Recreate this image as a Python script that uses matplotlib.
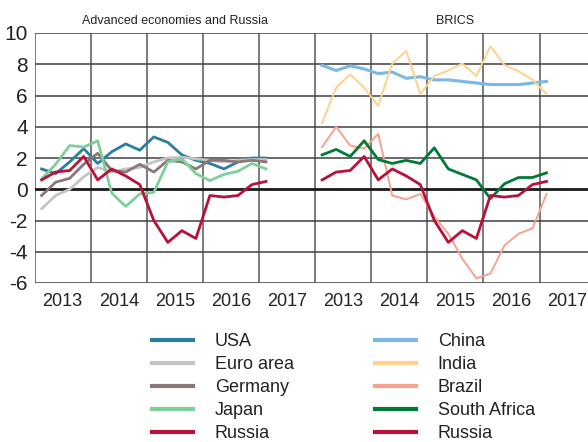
import numpy as np
import matplotlib
matplotlib.use("Agg")
import matplotlib.pyplot as plt

plt.rcParams['font.family'] = ['Liberation Sans', 'DejaVu Sans']

years = ['2013', '2014', '2015', '2016', '2017']

# quarterly values 2013Q1 .. 2017Q1
usa = [1.3, 1.0, 1.75, 2.6, 1.65, 2.4, 2.9, 2.5, 3.35, 3.0, 2.2, 1.85, 1.65, 1.3, 1.75, 2.0, 2.0]
euro = [-1.25, -0.4, 0.0, 0.8, 1.4, 1.1, 1.3, 1.4, 1.75, 2.0, 2.05, 1.95, 1.85, 1.75, 1.85, 1.9, 1.9]
germany = [-0.4, 0.45, 0.7, 1.6, 2.3, 1.2, 1.1, 1.6, 1.1, 1.85, 1.75, 1.3, 1.85, 1.85, 1.75, 1.85, 1.75]
japan = [0.65, 1.6, 2.8, 2.7, 3.1, -0.25, -1.1, -0.3, -0.2, 1.75, 1.95, 1.0, 0.55, 0.95, 1.15, 1.65, 1.3]
russia = [0.6, 1.1, 1.2, 2.1, 0.6, 1.3, 0.85, 0.3, -2.0, -3.4, -2.65, -3.15, -0.4, -0.5, -0.4, 0.3, 0.5]

china = [7.93, 7.6, 7.9, 7.7, 7.4, 7.5, 7.1, 7.2, 7.0, 7.0, 6.9, 6.8, 6.7, 6.7, 6.7, 6.8, 6.9]
india = [4.25, 6.5, 7.35, 6.5, 5.35, 8.05, 8.85, 6.1, 7.25, 7.6, 8.05, 7.25, 9.15, 7.95, 7.55, 7.0, 6.1]
brazil = [2.7, 4.0, 2.8, 2.6, 3.55, -0.4, -0.65, -0.3, -1.75, -2.85, -4.45, -5.7, -5.4, -3.6, -2.85, -2.5, -0.3]
safrica = [2.2, 2.55, 2.1, 3.1, 1.9, 1.65, 1.85, 1.65, 2.65, 1.3, 0.95, 0.6, -0.6, 0.35, 0.75, 0.75, 1.05]

q = (np.arange(17) + 0.5) / 4.0
xl = q
xr = q + 5

fig = plt.figure(figsize=(5.88, 4.42), dpi=100)
ax = fig.add_axes([34.6 / 588, 1 - 283 / 442, 1 - 34.6 / 588, 250 / 442])

ax.set_xlim(0, (588 - 34.6) / 56.1)
ax.set_ylim(-6, 10)

for x in range(0, 11):
    ax.axvline(x, color='#707070', lw=1.3, zorder=1)
for y in range(-6, 11, 2):
    if y == 0:
        continue
    ax.axhline(y, color='#404040', lw=1.1, zorder=1)
ax.axhline(0, color='#1a1a1a', lw=2.0, zorder=2)

left_lines = []
left_lines += ax.plot(xl, usa, color='#2a7f9e', lw=2.0, label='USA', zorder=3)
left_lines += ax.plot(xl, euro, color='#c4c4c4', lw=2.0, label='Euro area', zorder=3)
left_lines += ax.plot(xl, germany, color='#8a7777', lw=2.0, label='Germany', zorder=3)
left_lines += ax.plot(xl, japan, color='#7fcf9c', lw=2.0, label='Japan', zorder=3)
left_lines += ax.plot(xl, russia, color='#b8113a', lw=2.0, label='Russia', zorder=4)

right_lines = []
right_lines += ax.plot(xr, china, color='#7ab8e6', lw=2.2, label='China', zorder=3)
right_lines += ax.plot(xr, india, color='#fdd28c', lw=1.4, label='India', zorder=3)
right_lines += ax.plot(xr, brazil, color='#f7a28e', lw=1.4, label='Brazil', zorder=3)
right_lines += ax.plot(xr, safrica, color='#007a35', lw=2.0, label='South Africa', zorder=3)
right_lines += ax.plot(xr, russia, color='#b8113a', lw=2.0, label='Russia', zorder=4)

ax.set_yticks(range(-6, 11, 2))
ax.set_yticklabels([str(v) for v in range(-6, 11, 2)], fontsize=15, color='#222222')
ax.set_xticks(np.arange(10) + 0.5)
ax.set_xticklabels(years + years, fontsize=13, color='#222222')
ax.tick_params(axis='y', length=0, pad=5)
ax.tick_params(axis='x', length=0, pad=7)
for s in ax.spines.values():
    s.set_visible(False)

fig.text(175 / 588, 1 - 21 / 442, 'Advanced economies and Russia', ha='center', va='center', fontsize=9, color='#222222')
fig.text(455 / 588, 1 - 21 / 442, 'BRICS', ha='center', va='center', fontsize=9, color='#222222')

for lines, x0 in [(left_lines, 152), (right_lines, 375)]:
    leg = fig.legend(handles=lines, loc='upper left', bbox_to_anchor=(x0 / 588, 1 - 333 / 442), ncol=1,
                     frameon=False, fontsize=13, handlelength=2.27, handletextpad=1.2,
                     labelspacing=0.33, borderaxespad=0, borderpad=0)
    for h in leg.get_lines():
        h.set_linewidth(3.0)
    for t in leg.get_texts():
        t.set_color('#222222')

fig.savefig('out.png', dpi=100)
